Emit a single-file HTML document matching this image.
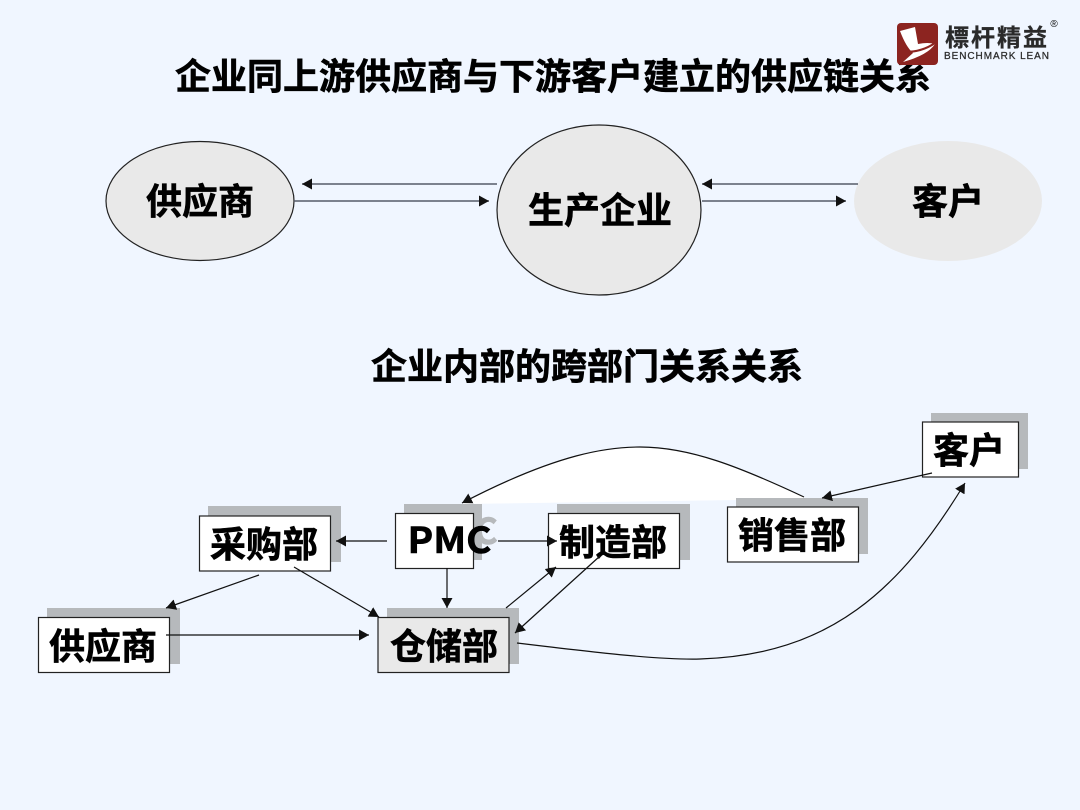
<!DOCTYPE html>
<html lang="zh"><head><meta charset="utf-8"><style>
html,body{margin:0;padding:0;background:#f0f6ff}
svg{display:block}
text{font-family:"Liberation Sans","Noto Sans CJK SC",sans-serif;font-weight:700;fill:#000;text-anchor:middle;stroke:#000;stroke-width:.6px}
.b{fill:#fff;stroke:#222;stroke-width:1.2}
.s{fill:#b6b9bc}
.l{fill:none;stroke:#111;stroke-width:1.2;marker-end:url(#a)}
.g{stroke:#555b68;stroke-width:1.5;fill:none;marker-end:url(#a)}
</style></head><body>
<svg width="1080" height="810" viewBox="0 0 1080 810" xmlns="http://www.w3.org/2000/svg">
<defs><marker id="a" markerUnits="userSpaceOnUse" markerWidth="13" markerHeight="12" refX="10" refY="5.500" orient="auto"><path d="M0 0L10 5.500L0 11Z" fill="#111"/></marker></defs>
<rect width="1080" height="810" fill="#f0f6ff"/>

<text x="553" y="89" font-size="36">企业同上游供应商与下游客户建立的供应链关系</text>

<!-- logo -->
<rect x="897" y="23" width="41" height="42" rx="4" fill="#8c2420"/>
<path d="M900 31L915 27L918 44Q928 42 935 44Q928 55 903 62L913 53Q906 47 900 31Z" fill="#fff"/>
<path d="M905 52Q922 52 935 43" fill="none" stroke="#8c2420" stroke-width="2"/>
<text x="997" y="46" font-size="24" style="letter-spacing:2px;stroke-width:.3px;fill:#2a2a2a;stroke:#2a2a2a">標杆精益</text>
<text x="996.500" y="59" font-size="10" textLength="105" lengthAdjust="spacing" style="font-weight:400;stroke-width:.25px;fill:#2a2a2a;stroke:#2a2a2a">BENCHMARK LEAN</text>
<text x="1054" y="27" font-size="10" style="font-weight:400;stroke:none">®</text>

<!-- top row -->
<ellipse cx="200" cy="201" rx="94" ry="59.500" fill="#e9e9e9" stroke="#222" stroke-width="1.2"/>
<ellipse cx="599" cy="210" rx="102" ry="85" fill="#e9e9e9" stroke="#222" stroke-width="1.2"/>
<ellipse cx="948" cy="201" rx="94" ry="60" fill="#e9e9e9"/>
<text x="200" y="214" font-size="36">供应商</text>
<text x="600" y="223" font-size="36">生产企业</text>
<text x="948" y="214" font-size="36">客户</text>
<path class="g" d="M497 184H302"/>
<path class="g" d="M294 201H489"/>
<path class="g" d="M858 184H702"/>
<path class="g" d="M702 201H846"/>

<text x="587" y="379" font-size="36">企业内部的跨部门关系关系</text>

<!-- white curve fill -->
<path d="M462 504C560 452 610 447 640 447C690 447 740 467 804 497L804 499L462 504Z" fill="#fff"/>

<!-- shadows -->
<rect class="s" x="404" y="504" width="78" height="56"/>
<rect class="s" x="557" y="504" width="133" height="56"/>
<rect class="s" x="736" y="498" width="132" height="56"/>
<rect class="s" x="931" y="413" width="97" height="56"/>
<rect class="s" x="208" y="506" width="133" height="56"/>
<rect class="s" x="47" y="608" width="133" height="56"/>
<rect class="s" x="387" y="608" width="132" height="56"/>

<!-- ghost C -->
<text x="486" y="544" font-size="36" style="fill:#b6b9bc;stroke:#b6b9bc;font-family:'Noto Sans CJK SC',sans-serif">C</text>

<!-- boxes -->
<rect class="b" x="395.500" y="513.500" width="78" height="55"/>
<rect class="b" x="548.500" y="513.500" width="131" height="55"/>
<rect class="b" x="727.500" y="507" width="131" height="55"/>
<rect class="b" x="922.500" y="422" width="96" height="55"/>
<rect class="b" x="199.500" y="516" width="131" height="55"/>
<rect class="b" x="38.500" y="617.500" width="131" height="55"/>
<rect class="b" x="378" y="617.500" width="131" height="55" style="fill:#e9e9e9"/>

<text x="449.500" y="553" font-size="36" textLength="84" lengthAdjust="spacingAndGlyphs" style="font-family:'Noto Sans CJK SC',sans-serif">PMC</text>
<text x="613" y="555" font-size="36">制造部</text>
<text x="792" y="548" font-size="36">销售部</text>
<text x="969" y="463" font-size="36">客户</text>
<text x="264" y="557" font-size="36">采购部</text>
<text x="103" y="659" font-size="36">供应商</text>
<text x="444" y="659" font-size="36">仓储部</text>

<!-- connectors -->
<path class="l" d="M804 497C740 467 690 447 640 447C610 447 560 452 462 503"/>
<path class="l" d="M932 473L822 498"/>
<path class="l" d="M387 541H336"/>
<path class="l" d="M498 541H557"/>
<path class="l" d="M447 568V608"/>
<path class="l" d="M506 608L556 567"/>
<path class="l" d="M600 556L515 633"/>
<path class="l" d="M259 575L166 608"/>
<path class="l" d="M294 567L379 617"/>
<path class="l" d="M166 635H369"/>
<path class="l" d="M517 643C600 653 660 660 700 659C830 655 900 590 965 483"/>
</svg>
</body></html>
